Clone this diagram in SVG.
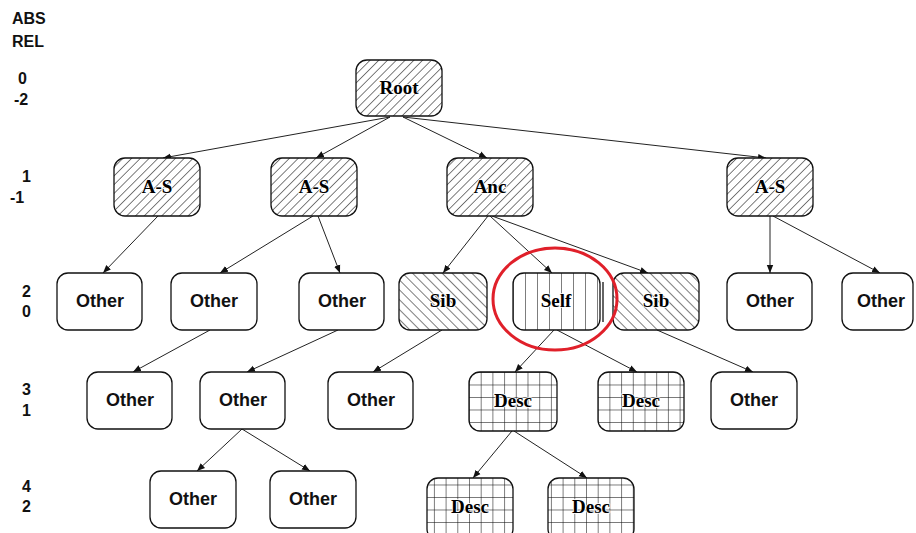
<svg xmlns="http://www.w3.org/2000/svg" width="916" height="533" viewBox="0 0 916 533">
<style>
.box{stroke:#111;stroke-width:1.3}
.plain{fill:#fff}
.lbl{font-family:"Liberation Sans",Arial,sans-serif;font-weight:bold;font-size:18px;text-anchor:middle;fill:#111}
.hl{font-family:"Liberation Serif","Times New Roman",serif;font-weight:bold;font-size:19px;text-anchor:middle;fill:#000;stroke:#fff;stroke-width:1.5;paint-order:stroke}
.lev{font-family:"Liberation Sans",Arial,sans-serif;font-weight:bold;font-size:16px;fill:#111}
.edge{stroke:#222;stroke-width:1;fill:none;marker-end:url(#arr)}
</style>
<defs>
<marker id="arr" markerUnits="userSpaceOnUse" markerWidth="8" markerHeight="8" viewBox="0 0 8 8" refX="8" refY="4" orient="auto">
<path d="M0,0.8 L8,4 L0,7.2 Z" fill="#111"/>
</marker>
<pattern id="fwd" patternUnits="userSpaceOnUse" width="6.2" height="10" patternTransform="rotate(45)">
<rect width="6.2" height="10" fill="#fff"/>
<line x1="0" y1="0" x2="0" y2="10" stroke="#111" stroke-width="1.1"/>
</pattern>
<pattern id="bwd" patternUnits="userSpaceOnUse" width="7" height="10" patternTransform="rotate(-45)">
<rect width="7" height="10" fill="#fff"/>
<line x1="0" y1="0" x2="0" y2="10" stroke="#111" stroke-width="1.1"/>
</pattern>
<pattern id="vert" patternUnits="userSpaceOnUse" x="513" y="0" width="12" height="10">
<rect width="12" height="10" fill="#fff"/>
<line x1="0" y1="0" x2="0" y2="10" stroke="#111" stroke-width="1.1"/>
</pattern>
<pattern id="grid" patternUnits="userSpaceOnUse" x="469" y="372" width="11.7" height="12.5">
<rect width="11.7" height="12.5" fill="#fff"/>
<line x1="0" y1="0" x2="0" y2="12.5" stroke="#111" stroke-width="1.1"/>
<line x1="0" y1="0" x2="11.7" y2="0" stroke="#111" stroke-width="1.1"/>
</pattern>
</defs>

<g id="levels">
<text class="lev" x="12" y="24">ABS</text>
<text class="lev" x="12" y="47">REL</text>
<text class="lev" x="18" y="84">0</text>
<text class="lev" x="14" y="105">-2</text>
<text class="lev" x="22" y="182">1</text>
<text class="lev" x="10" y="203">-1</text>
<text class="lev" x="22" y="297">2</text>
<text class="lev" x="22" y="317">0</text>
<text class="lev" x="22" y="395">3</text>
<text class="lev" x="22" y="416">1</text>
<text class="lev" x="22" y="492">4</text>
<text class="lev" x="22" y="512">2</text>
</g>

<g id="connectors">
<line class="edge" x1="390" y1="117" x2="163" y2="158"/>
<line class="edge" x1="390" y1="117" x2="316" y2="158"/>
<line class="edge" x1="403" y1="117" x2="487" y2="158"/>
<line class="edge" x1="403" y1="117" x2="766" y2="158"/>
<line class="edge" x1="158" y1="216" x2="103" y2="273"/>
<line class="edge" x1="313" y1="216" x2="220" y2="273"/>
<line class="edge" x1="318" y1="216" x2="340" y2="273"/>
<line class="edge" x1="488" y1="216" x2="443" y2="273"/>
<line class="edge" x1="490" y1="216" x2="552" y2="273"/>
<line class="edge" x1="492" y1="216" x2="648" y2="273"/>
<line class="edge" x1="770" y1="216" x2="770" y2="273"/>
<line class="edge" x1="773" y1="216" x2="880" y2="273"/>
<line class="edge" x1="210" y1="330" x2="133" y2="372"/>
<line class="edge" x1="338" y1="330" x2="247" y2="372"/>
<line class="edge" x1="442" y1="330" x2="373" y2="372"/>
<line class="edge" x1="554" y1="330" x2="515" y2="372"/>
<line class="edge" x1="557" y1="330" x2="637" y2="372"/>
<line class="edge" x1="657" y1="330" x2="753" y2="372"/>
<line class="edge" x1="242" y1="429" x2="197" y2="471"/>
<line class="edge" x1="242" y1="429" x2="310" y2="471"/>
<line class="edge" x1="512" y1="431" x2="473" y2="478"/>
<line class="edge" x1="514" y1="431" x2="587" y2="478"/>
</g>

<g id="root"><rect class="box" x="356" y="60" width="86" height="56" rx="11" fill="url(#fwd)"/><text class="hl" x="399" y="94">Root</text></g>
<g id="as1"><rect class="box" x="114" y="158" width="86" height="58" rx="11" fill="url(#fwd)"/><text class="hl" x="157" y="193">A-S</text></g>
<g id="as2"><rect class="box" x="271" y="158" width="86" height="58" rx="11" fill="url(#fwd)"/><text class="hl" x="314" y="193">A-S</text></g>
<g id="anc"><rect class="box" x="447" y="158" width="86" height="58" rx="11" fill="url(#fwd)"/><text class="hl" x="490" y="193">Anc</text></g>
<g id="as4"><rect class="box" x="727" y="158" width="86" height="58" rx="11" fill="url(#fwd)"/><text class="hl" x="770" y="193">A-S</text></g>

<g id="o21"><rect class="box plain" x="57" y="273" width="85" height="57" rx="11"/><text class="lbl" x="100" y="307">Other</text></g>
<g id="o22"><rect class="box plain" x="171" y="273" width="86" height="57" rx="11"/><text class="lbl" x="214" y="307">Other</text></g>
<g id="o23"><rect class="box plain" x="299" y="273" width="85" height="57" rx="11"/><text class="lbl" x="342" y="307">Other</text></g>
<g id="sib1"><rect class="box" x="399" y="273" width="88" height="57" rx="11" fill="url(#bwd)"/><text class="hl" x="443" y="307">Sib</text></g>
<g id="self"><rect class="box" x="513" y="273" width="87" height="57" rx="11" fill="url(#vert)"/><line x1="603" y1="282" x2="603" y2="322" stroke="#111" stroke-width="1.3"/><text class="hl" x="556" y="307">Self</text></g>
<g id="sib2"><rect class="box" x="613" y="273" width="86" height="57" rx="11" fill="url(#bwd)"/><text class="hl" x="656" y="307">Sib</text></g>
<g id="o27"><rect class="box plain" x="727" y="273" width="85" height="57" rx="11"/><text class="lbl" x="770" y="307">Other</text></g>
<g id="o28"><rect class="box plain" x="842" y="273" width="71" height="57" rx="11"/><text class="lbl" x="881" y="307">Other</text></g>

<g id="o31"><rect class="box plain" x="87" y="372" width="85" height="57" rx="11"/><text class="lbl" x="130" y="406">Other</text></g>
<g id="o32"><rect class="box plain" x="200" y="372" width="85" height="57" rx="11"/><text class="lbl" x="243" y="406">Other</text></g>
<g id="o33"><rect class="box plain" x="328" y="372" width="85" height="57" rx="11"/><text class="lbl" x="371" y="406">Other</text></g>
<g id="desc31"><rect class="box" x="469" y="372" width="88" height="59" rx="11" fill="url(#grid)"/><text class="hl" x="513" y="407">Desc</text></g>
<g id="desc32"><rect class="box" x="598" y="372" width="86" height="59" rx="11" fill="url(#grid)"/><text class="hl" x="641" y="407">Desc</text></g>
<g id="o34"><rect class="box plain" x="711" y="372" width="86" height="57" rx="11"/><text class="lbl" x="754" y="406">Other</text></g>

<g id="o41"><rect class="box plain" x="150" y="471" width="86" height="57" rx="11"/><text class="lbl" x="193" y="505">Other</text></g>
<g id="o42"><rect class="box plain" x="270" y="471" width="86" height="57" rx="11"/><text class="lbl" x="313" y="505">Other</text></g>
<g id="desc41"><rect class="box" x="427" y="478" width="86" height="62" rx="11" fill="url(#grid)"/><text class="hl" x="470" y="513">Desc</text></g>
<g id="desc42"><rect class="box" x="548" y="478" width="86" height="62" rx="11" fill="url(#grid)"/><text class="hl" x="591" y="513">Desc</text></g>

<g id="highlight"><ellipse cx="555" cy="299" rx="62" ry="51" fill="none" stroke="#e0202a" stroke-width="3"/></g>
</svg>
